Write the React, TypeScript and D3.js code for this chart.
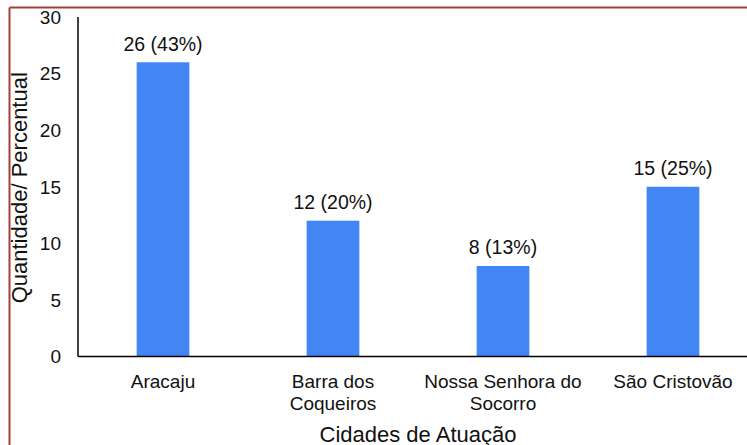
import React from "react";
import * as d3 from "d3";

const categories = ["Aracaju", "Barra dos Coqueiros", "Nossa Senhora do Socorro", "São Cristovão"];
const categoryLines = [["Aracaju"], ["Barra dos", "Coqueiros"], ["Nossa Senhora do", "Socorro"], ["São Cristovão"]];
const values = [26, 12, 8, 15];
const valueLabels = ["26 (43%)", "12 (20%)", "8 (13%)", "15 (25%)"];
const yTicks = [0, 5, 10, 15, 20, 25, 30];

const W = 747, H = 445;
const left = 78, right = 758, top = 17, bottom = 356.5;
const FONT = "'Liberation Sans', Arial, sans-serif";

export default function App() {
  const x = d3.scaleBand<string>().domain(categories).range([left, right]).paddingInner(0.69).paddingOuter(0.345);
  const y = d3.scaleLinear().domain([0, 30]).range([bottom, top]);
  return (
    <svg width={W} height={H} style={{ position: "absolute", left: 0, top: 0, background: "#fff" }}>
      <rect x={0} y={0} width={W} height={H} fill="#fff" />
      {values.map((v, i) => (
        <g key={i}>
          <rect x={x(categories[i])!} y={y(v)} width={x.bandwidth()} height={y(0) - y(v)} fill="#4285F4" />
          <text x={x(categories[i])! + x.bandwidth() / 2} y={y(v) - 11.5} textAnchor="middle" fontFamily={FONT} fontSize={19.5} fill="#111">{valueLabels[i]}</text>
        </g>
      ))}
      <line x1={left} y1={top} x2={left} y2={bottom} stroke="#000" strokeWidth={1.5} />
      <line x1={left} y1={bottom} x2={W} y2={bottom} stroke="#000" strokeWidth={1.5} />
      {yTicks.map((t) => (
        <text key={t} x={61} y={y(t)} dy="0.36em" textAnchor="end" fontFamily={FONT} fontSize={19} fill="#111">{t}</text>
      ))}
      {categoryLines.map((lines, i) => (
        <text key={i} textAnchor="middle" fontFamily={FONT} fontSize={19} fill="#111">
          {lines.map((l, j) => (
            <tspan key={j} x={x(categories[i])! + x.bandwidth() / 2} y={388 + j * 22}>{l}</tspan>
          ))}
        </text>
      ))}
      <text x={(left + right) / 2} y={442} textAnchor="middle" fontFamily={FONT} fontSize={22} fill="#111">Cidades de Atuação</text>
      <text transform={`translate(27,${(top + bottom) / 2 + 1}) rotate(-90)`} textAnchor="middle" fontFamily={FONT} fontSize={22} fill="#111">Quantidade/ Percentual</text>
      <line x1={9.5} y1={7.5} x2={9.5} y2={H} stroke="#A4403A" strokeWidth={2} />
      <line x1={9.5} y1={7.5} x2={W} y2={7.5} stroke="#A4403A" strokeWidth={2} />
    </svg>
  );
}
